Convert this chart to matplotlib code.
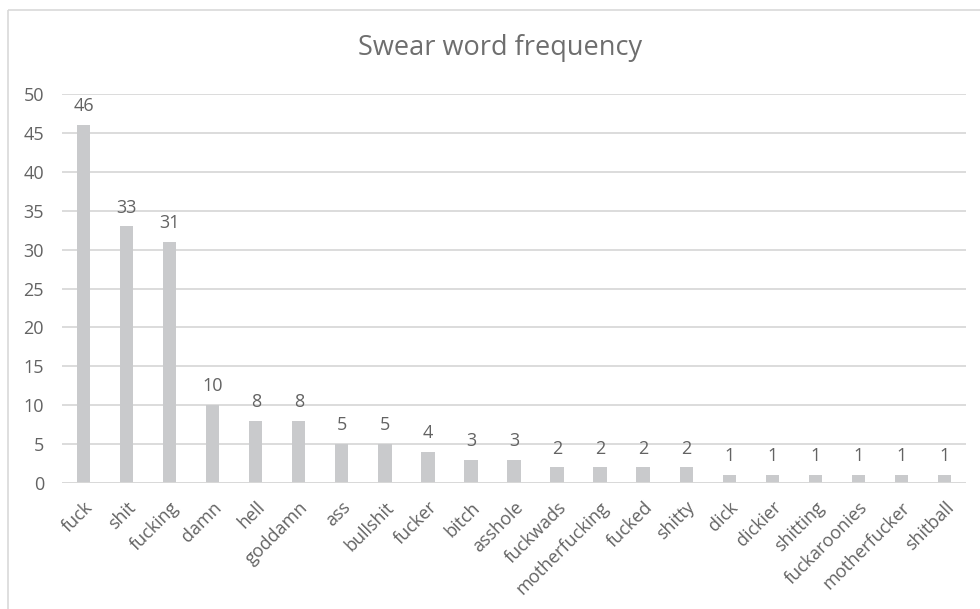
import matplotlib
matplotlib.use("Agg")
import matplotlib.pyplot as plt
from matplotlib.patches import Rectangle

words = ["fuck", "shit", "fucking", "damn", "hell", "goddamn", "ass", "bullshit",
         "fucker", "bitch", "asshole", "fuckwads", "motherfucking", "fucked", "shitty",
         "dick", "dickier", "shitting", "fuckaroonies", "motherfucker", "shitball"]
counts = [46, 33, 31, 10, 8, 8, 5, 5, 4, 3, 3, 2, 2, 2, 2, 1, 1, 1, 1, 1, 1]
yticks = [0, 5, 10, 15, 20, 25, 30, 35, 40, 45, 50]

text_color = "#636363"
grid_color = "#d9d9d9"
bar_color = "#c9cacc"

plt.rcParams["font.family"] = ["Open Sans", "DejaVu Sans"]

W, H = 980, 609
fig = plt.figure(figsize=(W / 100, H / 100), dpi=100)

# chart frame (runs off the right and bottom edges)
fig.patches.append(Rectangle((8 / W, 1 - 10 / H), 1.0, -1.0,
                             transform=fig.transFigure, fill=False,
                             edgecolor=grid_color, linewidth=1.2))

left, right = 62 / W, 966 / W
top, bottom = 1 - 94 / H, 1 - 483 / H
ax = fig.add_axes([left, bottom, right - left, top - bottom])

x = list(range(len(words)))
bars = ax.bar(x, counts, width=0.31, color=bar_color, zorder=3)
ax.set_xlim(-0.5, len(words) - 0.5)
ax.set_ylim(0, 50)
ax.set_yticks(yticks)
ax.yaxis.grid(True, color=grid_color, linewidth=1.3, zorder=0)
for s in ax.spines.values():
    s.set_visible(False)
ax.axhline(0, color=grid_color, linewidth=1.3, zorder=4)
ax.tick_params(axis="both", length=0, colors=text_color, labelsize=13)
ax.tick_params(axis="y", pad=13)
ax.set_xticks(x)
ax.set_xticklabels(words, rotation=45, ha="right", rotation_mode="anchor")
ax.tick_params(axis="x", pad=11)

for b, v in zip(bars, counts):
    ax.annotate(str(v), (b.get_x() + b.get_width() / 2, v), xytext=(0, 7),
                textcoords="offset points", ha="center", va="bottom",
                color=text_color, fontsize=13)

fig.text(500 / W, 1 - 48 / H, "Swear word frequency", ha="center", va="center",
         color="#6e6e6e", fontsize=19.5)

fig.savefig("out.png", dpi=100, facecolor="white")
